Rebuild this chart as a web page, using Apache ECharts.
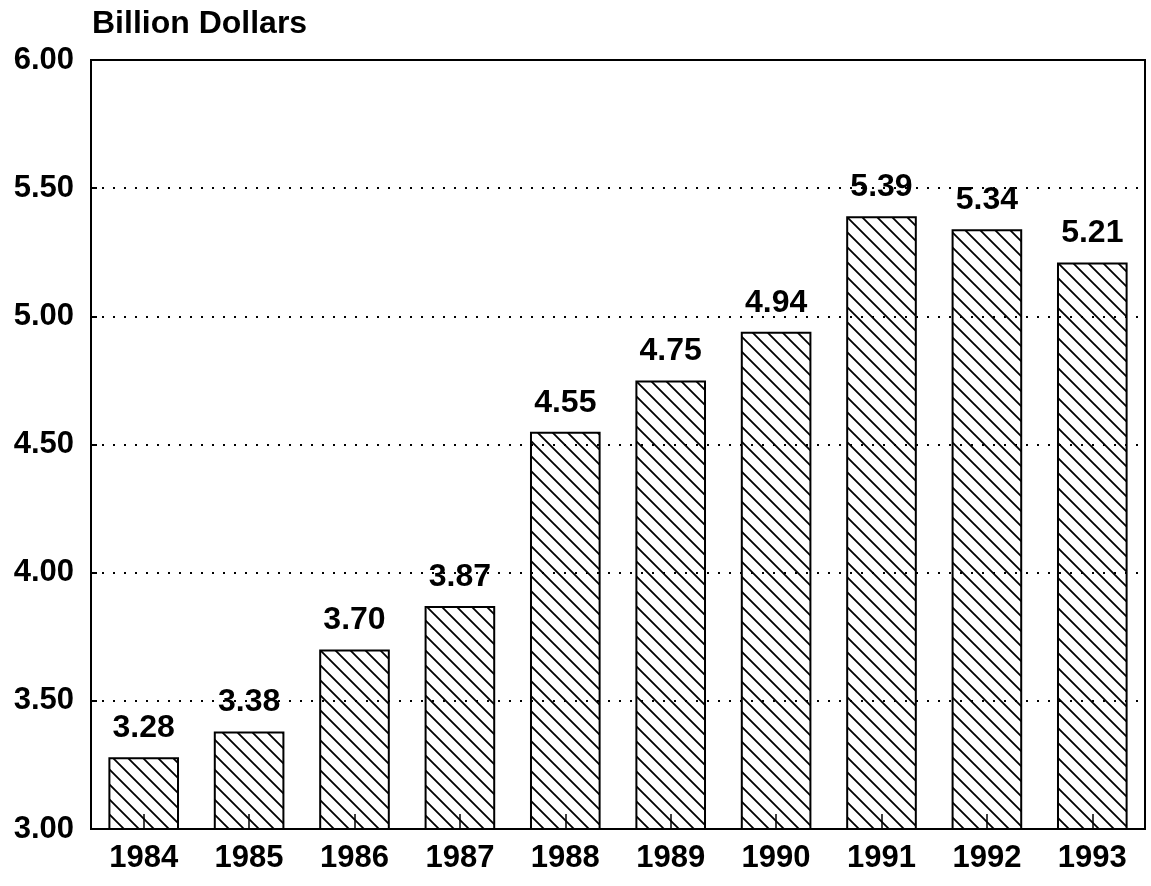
<!DOCTYPE html>
<html>
<head>
<meta charset="utf-8">
<style>
  html, body { margin: 0; padding: 0; background: #fff; }
  #chart { width: 1151px; height: 886px; }
</style>
<script src="https://cdn.jsdelivr.net/npm/echarts@6/dist/echarts.min.js"></script>
</head>
<body>
<div id="chart"></div>
<script>
const years = ['1984', '1985', '1986', '1987', '1988', '1989', '1990', '1991', '1992', '1993'];
const spending = [3.28, 3.38, 3.70, 3.87, 4.55, 4.75, 4.94, 5.39, 5.34, 5.21];
const yMin = 3.0;
const yMax = 6.0;
const yStep = 0.5;

const font = 'Liberation Sans';

// diagonal hatch tile, lines going top-left to bottom-right
function hatch() {
  const s = 15;
  const c = document.createElement('canvas');
  c.width = s;
  c.height = s;
  const ctx = c.getContext('2d');
  ctx.strokeStyle = '#000';
  ctx.lineWidth = 1.8;
  ctx.beginPath();
  ctx.moveTo(-2, -2); ctx.lineTo(s + 2, s + 2);
  ctx.moveTo(-2, s - 2); ctx.lineTo(2, s + 2);
  ctx.moveTo(s - 2, -2); ctx.lineTo(s + 2, 2);
  ctx.stroke();
  return c;
}

const chart = echarts.init(document.getElementById('chart'));
chart.setOption({
  animation: false,
  backgroundColor: '#fff',
  title: {
    text: 'Billion Dollars',
    left: 87,
    top: 3,
    textStyle: { fontFamily: font, fontWeight: 'bold', fontSize: 32, color: '#000' }
  },
  grid: {
    left: 91, right: 6, top: 60, bottom: 57,
    show: true, borderColor: '#000', borderWidth: 2, backgroundColor: 'transparent'
  },
  xAxis: {
    type: 'category',
    data: years,
    axisLine: { lineStyle: { color: '#000', width: 2 } },
    axisTick: { show: true, inside: true, alignWithLabel: true, length: 15, lineStyle: { color: '#000', width: 1.5 } },
    axisLabel: { margin: 14, color: '#000', fontFamily: font, fontWeight: 'bold', fontSize: 31 }
  },
  yAxis: {
    type: 'value',
    min: yMin,
    max: yMax,
    interval: yStep,
    axisLine: { show: true, lineStyle: { color: '#000', width: 2 } },
    axisTick: { show: true, inside: true, length: 6, lineStyle: { color: '#000', width: 2 } },
    axisLabel: {
      margin: 17, color: '#000', fontFamily: font, fontWeight: 'bold', fontSize: 31,
      formatter: v => v.toFixed(2)
    },
    splitLine: { show: true, lineStyle: { color: '#000', width: 2, type: [2, 9] } }
  },
  series: [{
    type: 'bar',
    data: spending,
    barCategoryGap: '33%',
    itemStyle: {
      color: { image: hatch(), repeat: 'repeat' },
      borderColor: '#000',
      borderWidth: 2
    },
    label: {
      show: true,
      position: 'top',
      distance: 13,
      color: '#000',
      fontFamily: font,
      fontWeight: 'bold',
      fontSize: 32,
      formatter: p => p.value.toFixed(2)
    }
  }]
});
</script>
</body>
</html>
